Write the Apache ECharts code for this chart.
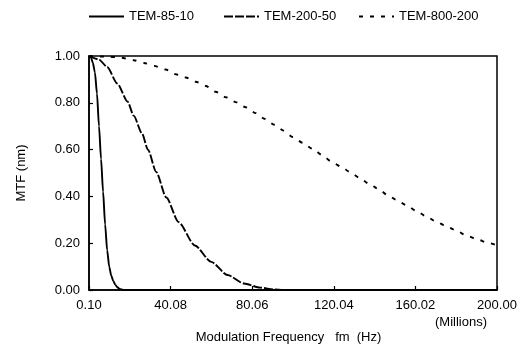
<!DOCTYPE html>
<html>
<head>
<meta charset="utf-8">
<script src="https://cdn.jsdelivr.net/npm/echarts@6/dist/echarts.min.js"></script>
<style>
html,body{margin:0;padding:0;background:#fff;}
#chart{width:526px;height:349px;}
</style>
</head>
<body>
<div id="chart"></div>
<script>
// ---- data ----
var seriesNames = ['TEM-85-10', 'TEM-200-50', 'TEM-800-200'];

var tem85X = [0.1, 1, 2, 3, 4, 5, 6, 7, 8, 9, 10, 11, 12, 13, 14, 15, 16, 17, 20, 200];
var tem85Y = [1.0, 0.995, 0.97, 0.93, 0.84, 0.70, 0.56, 0.42, 0.28, 0.17, 0.10, 0.062, 0.038, 0.022, 0.012, 0.005, 0.002, 0, 0, 0];

var tem200X = [0.1, 5, 9, 14, 19, 22, 26, 29, 33, 38, 44, 52, 60, 68, 76, 84, 91, 95, 200];
var tem200Y = [1.0, 0.985, 0.953, 0.882, 0.805, 0.745, 0.67, 0.60, 0.505, 0.395, 0.29, 0.19, 0.12, 0.064, 0.028, 0.01, 0.002, 0, 0];

var tem800X = [0.1, 10, 15.6, 22, 27, 32, 37.7, 42.6, 47.5, 52.4, 57.3, 62.2, 67.1, 72, 76.9, 81.8, 86, 90.9, 95.4, 99.9, 104.8, 109.7, 114.6, 118.6, 123.6, 128, 132.6, 137.1, 142, 146.5, 150.5, 155.4, 160.3, 165.3, 170.2, 175.1, 180, 184.9, 190.3, 195.5, 200];
var tem800Y = [1.0, 0.997, 0.993, 0.982, 0.970, 0.958, 0.942, 0.922, 0.908, 0.890, 0.872, 0.847, 0.824, 0.803, 0.781, 0.756, 0.732, 0.706, 0.681, 0.654, 0.629, 0.603, 0.575, 0.550, 0.527, 0.504, 0.480, 0.455, 0.431, 0.405, 0.386, 0.363, 0.339, 0.315, 0.292, 0.273, 0.254, 0.233, 0.216, 0.202, 0.19];

var xTickValues = [0.1, 40.08, 80.06, 120.04, 160.02, 200.0];
var yTickValues = [0, 0.2, 0.4, 0.6, 0.8, 1.0];

var xTitle = 'Modulation Frequency   fm  (Hz)';
var yTitle = 'MTF (nm)';
var unitsLabel = '(Millions)';

function pairs(xs, ys) { return xs.map(function (x, i) { return [x, ys[i]]; }); }

var FONT = "'Liberation Sans', Arial, sans-serif";
var chart = echarts.init(document.getElementById('chart'), null, { renderer: 'canvas' });

var lineTypes = ['solid', [9, 2], [4, 7]];
var dataSets = [pairs(tem85X, tem85Y), pairs(tem200X, tem200Y), pairs(tem800X, tem800Y)];
var legendLefts = [88, 223, 358];

chart.setOption({
  backgroundColor: '#ffffff',
  animation: false,
  textStyle: { fontFamily: FONT, color: '#000' },
  legend: seriesNames.map(function (n, i) {
    return {
      data: [n], left: legendLefts[i], top: 10, itemWidth: 35, itemHeight: 14, itemGap: 0,
      itemStyle: { opacity: 0 },
      lineStyle: { color: '#000', width: 2, type: lineTypes[i] },
      textStyle: { fontFamily: FONT, fontSize: 13, color: '#000' }, padding: 0
    };
  }),
  grid: { left: 89, right: 29, top: 56, bottom: 57, show: true, borderColor: '#000', borderWidth: 1.5, containLabel: false },
  xAxis: {
    type: 'value', min: 0.1, max: 200,
    name: xTitle, nameLocation: 'middle', nameGap: 41,
    nameTextStyle: { fontFamily: FONT, fontSize: 13, color: '#000', padding: [0, 9, 0, 0] },
    axisLine: { show: true, lineStyle: { color: '#000', width: 1.5 } },
    axisTick: { show: true, inside: true, length: 4, lineStyle: { color: '#000', width: 1.2 }, customValues: xTickValues },
    axisLabel: { fontFamily: FONT, fontSize: 13, color: '#000', margin: 9, customValues: xTickValues,
      formatter: function (v) { return v.toFixed(2); } },
    splitLine: { show: false }
  },
  yAxis: {
    type: 'value', min: 0, max: 1, interval: 0.2,
    name: yTitle, nameLocation: 'middle', nameGap: 61, nameRotate: 90,
    nameTextStyle: { fontFamily: FONT, fontSize: 13, color: '#000' },
    axisLine: { show: true, lineStyle: { color: '#000', width: 1.5 } },
    axisTick: { show: true, inside: true, length: 4, lineStyle: { color: '#000', width: 1.2 } },
    axisLabel: { fontFamily: FONT, fontSize: 13, color: '#000', margin: 9,
      formatter: function (v) { return v.toFixed(2); } },
    splitLine: { show: false }
  },
  graphic: [{
    type: 'text', right: 39, top: 316,
    style: { text: unitsLabel, font: '13px ' + FONT, fill: '#000' }
  }],
  series: seriesNames.map(function (n, i) {
    return {
      name: n, type: 'line', data: dataSets[i], showSymbol: false, symbol: 'none',
      smooth: 0.25, smoothMonotone: 'x', clip: true,
      lineStyle: { color: '#000', width: 1.9, type: lineTypes[i] },
      itemStyle: { color: '#000' }
    };
  })
});
</script>
</body>
</html>
